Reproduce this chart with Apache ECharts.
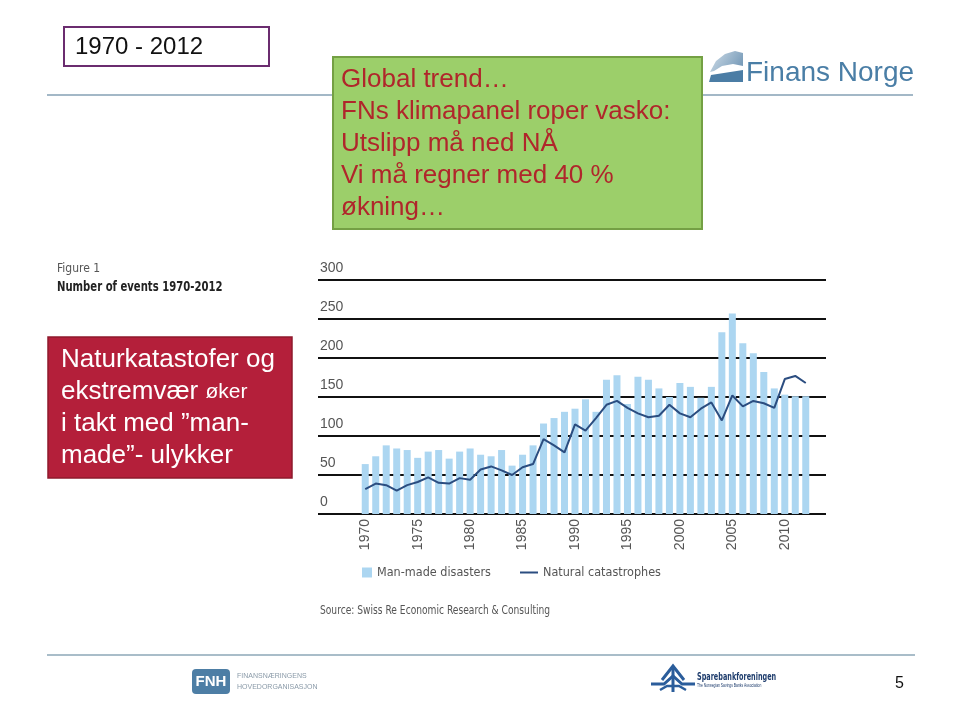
<!DOCTYPE html>
<html>
<head>
<meta charset="utf-8">
<title>Number of events 1970-2012</title>
<script type="text/javascript" src="https://cdn.jsdelivr.net/npm/echarts@6/dist/echarts.min.js"></script>
<style>
html, body { margin: 0; padding: 0; background: #fff; }
#main { width: 960px; height: 721px; }
</style>
</head>
<body>
<div id="main"></div>
<script type="text/javascript">
    // data (Swiss Re, number of events)
    var years = [];
    for (var y = 1970; y <= 2012; y++) years.push(String(y));

    var manMade = [64, 74, 88, 84, 82, 72, 80, 82, 71, 80,
                   84, 76, 74, 82, 62, 76, 88, 116, 123, 131,
                   135, 147, 131, 172, 178, 141, 176, 172, 161, 150,
                   168, 163, 149, 163, 233, 257, 219, 206, 182, 161,
                   153, 151, 151];
    var natural = [32, 39, 37, 30, 37, 41, 47, 40, 39, 46,
                   44, 57, 61, 56, 50, 60, 64, 96, 88, 79,
                   115, 107, 123, 140, 145, 136, 129, 124, 126, 140,
                   129, 124, 135, 143, 120, 152, 138, 145, 142, 136,
                   173, 177, 168];
    var yTicks = [0, 50, 100, 150, 200, 250, 300];

    var slideFont = '"Liberation Sans", Arial, sans-serif';
    var figFont = '"Liberation Sans Narrow", "DejaVu Sans Condensed", "Liberation Sans", sans-serif';

    var graphic = [
        // header / footer rules
        { type: 'line', shape: { x1: 47, y1: 95, x2: 913, y2: 95 }, style: { stroke: '#a3b8c7', lineWidth: 2 }, z: 1 },
        { type: 'line', shape: { x1: 47, y1: 655, x2: 915, y2: 655 }, style: { stroke: '#a9bdc9', lineWidth: 2 }, z: 1 },
        // period box
        { type: 'rect', shape: { x: 64, y: 27, width: 205, height: 39 }, style: { fill: '#fff', stroke: '#6b2c6f', lineWidth: 2 }, z: 2 },
        { type: 'text', x: 75, y: 47, style: { text: '1970 - 2012', font: '24px ' + slideFont, fill: '#111', verticalAlign: 'middle' }, z: 3 },
        // green message box
        { type: 'rect', shape: { x: 333, y: 57, width: 369, height: 172 }, style: { fill: '#9ccf6a', stroke: '#74a044', lineWidth: 2 }, z: 2 },
        { type: 'text', x: 341, y: 64, style: {
            text: 'Global trend…\nFNs klimapanel roper vasko:\nUtslipp må ned NÅ\nVi må regner med 40 %\nøkning…',
            font: '26px ' + slideFont, lineHeight: 32, fill: '#b0262b' }, z: 3 },
        // Finans Norge logo
        { type: 'polygon', shape: { points: [[710, 72], [716, 61], [725, 54], [735, 51], [743, 53], [743, 66], [733, 64], [722, 66], [714, 71]] },
          style: { fill: new echarts.graphic.LinearGradient(0, 0, 1, 1, [{ offset: 0, color: '#cfdde8' }, { offset: 1, color: '#6d93b3' }]) }, z: 2 },
        { type: 'polygon', shape: { points: [[711, 75], [743, 70], [743, 82], [709, 82]] }, style: { fill: '#4b7da5' }, z: 2 },
        { type: 'text', x: 746, y: 73, style: { text: 'Finans Norge', font: '28px ' + slideFont, fill: '#4a7ea6', verticalAlign: 'middle' }, z: 3 },
        // figure caption
        { type: 'text', x: 57, y: 269, style: { text: 'Figure 1', font: '12px ' + figFont, fill: '#555', verticalAlign: 'middle' }, z: 3 },
        { type: 'text', x: 57, y: 287, scaleX: 0.8, style: { text: 'Number of events 1970-2012', font: 'bold 14px ' + figFont, fill: '#222', verticalAlign: 'middle' }, z: 3 },
        // red message box
        { type: 'rect', shape: { x: 48, y: 337, width: 244, height: 141 }, style: { fill: '#b41f3a', stroke: '#8e1a2c', lineWidth: 1.5 }, z: 2 },
        { type: 'text', x: 61, y: 344, style: {
            text: 'Naturkatastofer og\nekstremvær {s|øker}\ni takt med ”man-\nmade”- ulykker',
            font: '26px ' + slideFont, lineHeight: 32, fill: '#fff',
            rich: { s: { fontSize: 21, fontFamily: slideFont, fill: '#fff' } } }, z: 3 },
        // source
        { type: 'text', x: 320, y: 611, scaleX: 0.78, style: { text: 'Source: Swiss Re Economic Research & Consulting', font: '13px ' + figFont, fill: '#555', verticalAlign: 'middle' }, z: 3 },
        // FNH logo
        { type: 'rect', shape: { x: 192, y: 669, width: 38, height: 25, r: 4 }, style: { fill: '#4d7ea5' }, z: 2 },
        { type: 'text', x: 211, y: 682, style: { text: 'FNH', font: 'bold 15px ' + slideFont, fill: '#fff', align: 'center', verticalAlign: 'middle' }, z: 3 },
        { type: 'text', x: 237, y: 676, style: { text: 'FINANSNÆRINGENS', font: '7px ' + slideFont, fill: '#8a9aa8', verticalAlign: 'middle' }, z: 3 },
        { type: 'text', x: 237, y: 687, style: { text: 'HOVEDORGANISASJON', font: '7px ' + slideFont, fill: '#8a9aa8', verticalAlign: 'middle' }, z: 3 },
        // Sparebankforeningen logo
        { type: 'polyline', shape: { points: [[662, 680], [673, 666], [684, 680]] }, style: { stroke: '#2b5d9b', lineWidth: 3, fill: null }, z: 2 },
        { type: 'line', shape: { x1: 673, y1: 666, x2: 673, y2: 692 }, style: { stroke: '#2b5d9b', lineWidth: 3 }, z: 2 },
        { type: 'polyline', shape: { points: [[651, 684], [664, 684], [673, 676], [682, 684], [695, 684]] }, style: { stroke: '#2b5d9b', lineWidth: 3, fill: null }, z: 2 },
        { type: 'polyline', shape: { points: [[660, 690], [667, 686], [679, 686], [686, 690]] }, style: { stroke: '#2b5d9b', lineWidth: 2.5, fill: null }, z: 2 },
        { type: 'text', x: 697, y: 677, scaleX: 0.72, style: { text: 'Sparebankforeningen', font: 'bold 10px ' + figFont, fill: '#1f3d6d', verticalAlign: 'middle' }, z: 3 },
        { type: 'text', x: 697, y: 686, scaleX: 0.75, style: { text: 'The Norwegian Savings Banks Association', font: '4.5px ' + slideFont, fill: '#1f3d6d', verticalAlign: 'middle' }, z: 3 },
        // page number
        { type: 'text', x: 895, y: 684, style: { text: '5', font: '16px ' + slideFont, fill: '#111', verticalAlign: 'middle' }, z: 3 }
    ];

    var option = {
        backgroundColor: '#fff',
        animation: false,
        textStyle: { fontFamily: slideFont },
        graphic: graphic,
        legend: [
            {
                data: ['Man-made disasters'], left: 357, top: 561,
                itemWidth: 10, itemHeight: 10, icon: 'rect',
                textStyle: { fontFamily: figFont, fontSize: 12.5, color: '#555' }
            },
            {
                data: ['Natural catastrophes'], left: 515, top: 561,
                itemWidth: 18, itemHeight: 2, icon: 'rect',
                textStyle: { fontFamily: figFont, fontSize: 12.5, color: '#555' }
            }
        ],
        grid: [
            // wide grid, only for the horizontal rules and the y labels
            { left: 318, right: 134, top: 280, bottom: 207 },
            // data grid
            { left: 360, right: 149, top: 280, bottom: 207 }
        ],
        xAxis: [
            { type: 'value', gridIndex: 0, min: 0, max: 1, show: false },
            {
                type: 'category', gridIndex: 1, data: years,
                axisLine: { show: false }, axisTick: { show: false },
                axisLabel: { rotate: 90, interval: 4, margin: 5, fontSize: 14, color: '#555', fontFamily: slideFont }
            }
        ],
        yAxis: [
            {
                type: 'value', gridIndex: 0, min: yTicks[0], max: yTicks[yTicks.length - 1], interval: 50,
                axisLine: { show: false }, axisTick: { show: false },
                splitLine: { show: true, lineStyle: { color: '#111', width: 2 } },
                axisLabel: { inside: true, margin: 2, verticalAlign: 'bottom', padding: [0, 0, 5, 0],
                             fontSize: 14, color: '#555', fontFamily: slideFont }
            },
            { type: 'value', gridIndex: 1, min: 0, max: 300, show: false }
        ],
        series: [
            {
                name: 'Man-made disasters', type: 'bar', xAxisIndex: 1, yAxisIndex: 1,
                data: manMade, barWidth: 7,
                itemStyle: { color: '#acd6f1' }
            },
            {
                name: 'Natural catastrophes', type: 'line', xAxisIndex: 1, yAxisIndex: 1,
                data: natural, symbol: 'none',
                lineStyle: { color: '#2b4d80', width: 2 },
                itemStyle: { color: '#2b4d80' }
            }
        ]
    };

    var chart = echarts.init(document.getElementById('main'));
    chart.setOption(option);
</script>
</body>
</html>
